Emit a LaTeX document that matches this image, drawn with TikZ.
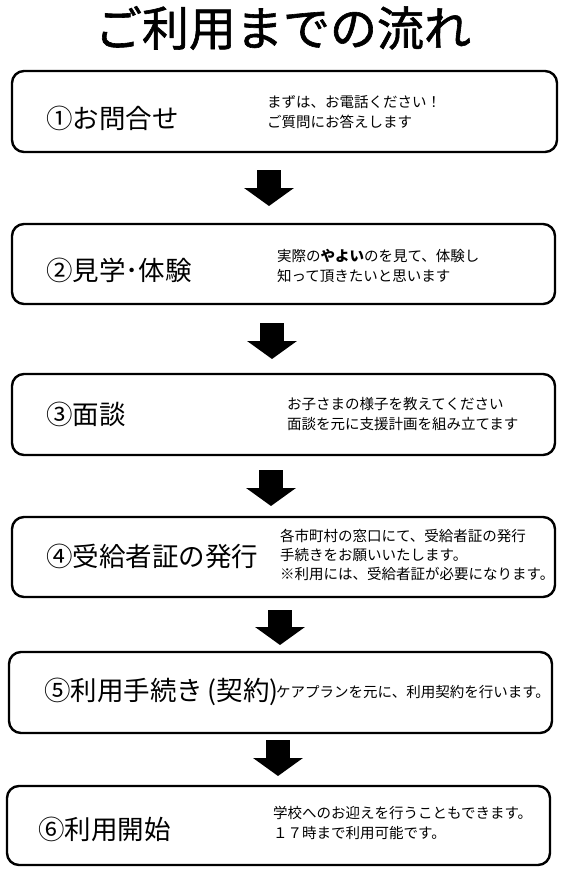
\documentclass[tikz,border=0pt]{standalone}
\usepackage{fontspec}
\setmainfont{Noto Sans CJK JP}
\newfontfamily\titlefont[BoldFont={Noto Sans CJK JP},BoldFeatures={FakeBold=1.3}]{Noto Sans CJK JP}
\usetikzlibrary{arrows.meta}
\tikzset{
  stepbox/.style={draw=black, line width=2.4pt, rounded corners=12pt, inner sep=0pt},
  steplabel/.style={anchor=west, inner sep=0pt, font=\fontsize{26.5pt}{30pt}\selectfont},
  stepnote/.style={anchor=west, inner sep=0pt, align=left, font=\fontsize{14.5pt}{20.5pt}\selectfont},
  blockarrow/.style={line width=24pt, -{Triangle[width=49pt,length=18pt]}}
}
\begin{document}
\begin{tikzpicture}[x=1pt,y=1pt]
\useasboundingbox (0,0) rectangle (564,-872);
\node[anchor=center, inner sep=0pt, font=\titlefont\bfseries\fontsize{47pt}{50pt}\selectfont] (title) at (283,-28) {ご利用までの流れ};

\node[stepbox, minimum width=545pt, minimum height=81pt] (b1) at (284.5,-111.5) {};
\node[steplabel] (l1) at (46,-118) {①お問合せ};
\node[stepnote] (n1) at (267,-112) {まずは、お電話ください！\\ご質問にお答えします};

\node[stepbox, minimum width=543pt, minimum height=80pt] (b2) at (283.5,-264) {};
\node[steplabel] (l2) at (46,-270) {②見学･体験};
\node[stepnote] (n2) at (277,-266) {実際の{\bfseries やよい}のを見て、体験し\\知って頂きたいと思います};

\node[stepbox, minimum width=543pt, minimum height=81pt] (b3) at (283.5,-414.5) {};
\node[steplabel] (l3) at (46,-414) {③面談};
\node[stepnote] (n3) at (287,-414) {お子さまの様子を教えてください\\面談を元に支援計画を組み立てます};

\node[stepbox, minimum width=543pt, minimum height=80pt] (b4) at (283.5,-557) {};
\node[steplabel] (l4) at (46,-556) {④受給者証の発行};
\node[stepnote, font=\fontsize{14.5pt}{19pt}\selectfont] (n4) at (280,-555) {各市町村の窓口にて、受給者証の発行\\手続きをお願いいたします。\\※利用には、受給者証が必要になります。};

\node[stepbox, minimum width=543pt, minimum height=81pt] (b5) at (280.5,-692.5) {};
\node[steplabel] (l5) at (44,-692) {⑤利用手続き\,(契約)};
\node[stepnote] (n5) at (276,-692) {ケアプランを元に、利用契約を行います。};

\node[stepbox, minimum width=543pt, minimum height=79pt] (b6) at (278.5,-825.5) {};
\node[steplabel] (l6) at (38,-829) {⑥利用開始};
\node[stepnote] (n6) at (273,-823) {学校へのお迎えを行うこともできます。\\１７時まで利用可能です。};

\coordinate (a1s) at (269,-170); \coordinate (a1e) at (269,-206);
\coordinate (a2s) at (272,-323); \coordinate (a2e) at (272,-359);
\coordinate (a3s) at (271,-470); \coordinate (a3e) at (271,-506);
\coordinate (a4s) at (280,-610); \coordinate (a4e) at (280,-645);
\coordinate (a5s) at (278,-740); \coordinate (a5e) at (278,-776);
\draw[blockarrow] (a1s) -- (a1e);
\draw[blockarrow] (a2s) -- (a2e);
\draw[blockarrow] (a3s) -- (a3e);
\draw[blockarrow] (a4s) -- (a4e);
\draw[blockarrow] (a5s) -- (a5e);
\end{tikzpicture}
\end{document}
